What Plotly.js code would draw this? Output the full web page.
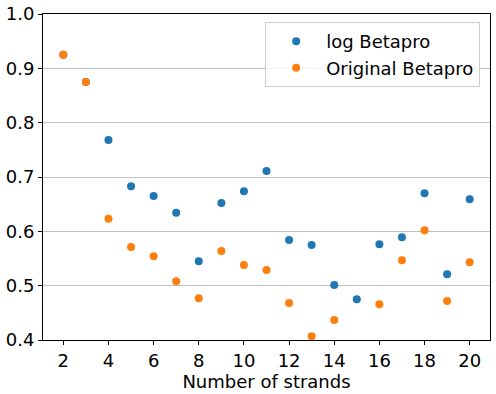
<!DOCTYPE html>
<html>
<head>
<meta charset="utf-8">
<script src="https://cdn.plot.ly/plotly-3.0.1.min.js"></script>
<style>
  body { margin: 0; padding: 0; background: #fff; }
  #plot { width: 496px; height: 394px; }
</style>
</head>
<body>
<div id="plot"></div>
<script>
// number of strands on the x axis
var strands = [2, 3, 4, 5, 6, 7, 8, 9, 10, 11, 12, 13, 14, 15, 16, 17, 18, 19, 20];

// log Betapro scores
var logBetapro = [0.925, 0.875, 0.768, 0.683, 0.665, 0.634, 0.545, 0.652, 0.674, 0.711,
                  0.584, 0.575, 0.501, 0.475, 0.576, 0.589, 0.670, 0.521, 0.659];

// original Betapro scores (15 strands not visible in range)
var origBetapro = [0.925, 0.875, 0.623, 0.571, 0.554, 0.508, 0.477, 0.564, 0.538, 0.529,
                   0.468, 0.407, 0.437, null, 0.466, 0.547, 0.602, 0.472, 0.543];

var xTicks = [2, 4, 6, 8, 10, 12, 14, 16, 18, 20];
var yTicks = [0.4, 0.5, 0.6, 0.7, 0.8, 0.9, 1.0];

var trace1 = {
  x: strands,
  y: logBetapro,
  name: "log Betapro",
  type: "scatter",
  mode: "markers",
  marker: { color: "#1f77b4", size: 8 }
};

var trace2 = {
  x: strands,
  y: origBetapro,
  name: "Original Betapro",
  type: "scatter",
  mode: "markers",
  marker: { color: "#ff7f0e", size: 8 }
};

var layout = {
  width: 496,
  height: 394,
  margin: { l: 43, r: 6, t: 14, b: 54 },
  paper_bgcolor: "#fff",
  plot_bgcolor: "#fff",
  font: { family: "DejaVu Sans", size: 18, color: "#000" },
  showlegend: true,
  xaxis: {
    title: { text: "Number of strands", font: { size: 18 }, standoff: 0 },
    range: [1.1, 20.9],
    tickvals: xTicks,
    ticktext: xTicks.map(String),
    ticks: "outside",
    ticklen: 4,
    tickcolor: "#000",
    showgrid: false,
    zeroline: false,
    showline: true,
    linecolor: "#000",
    linewidth: 1,
    mirror: true
  },
  yaxis: {
    range: [0.4, 1.0],
    tickvals: yTicks,
    ticktext: yTicks.map(v => v.toFixed(1)),
    ticks: "outside",
    ticklen: 4,
    tickcolor: "#000",
    showgrid: true,
    gridcolor: "#c0c0c0",
    gridwidth: 1,
    zeroline: false,
    showline: true,
    linecolor: "#000",
    linewidth: 1,
    mirror: true
  },
  legend: {
    x: 0.978,
    y: 0.975,
    xanchor: "right",
    yanchor: "top",
    bgcolor: "rgba(255,255,255,0.8)",
    bordercolor: "#cccccc",
    borderwidth: 1,
    itemwidth: 50,
    font: { size: 18 }
  }
};

Plotly.newPlot("plot", [trace1, trace2], layout, { displayModeBar: false });
</script>
</body>
</html>
